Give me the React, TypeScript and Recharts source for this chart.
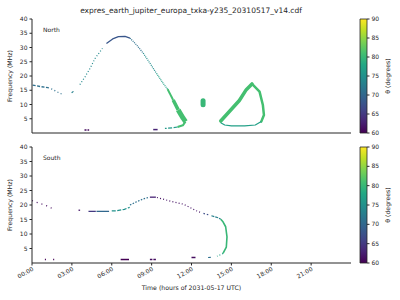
import React from "react";
import { ComposedChart, Line, XAxis, YAxis, BarChart, Bar } from "recharts";

type Pt = { h: number; f: number };

const hourTicks = [0, 3, 6, 9, 12, 15, 18, 21];
const freqTicks = [5, 10, 15, 20, 25, 30, 35, 40];
const thetaTicks = [60, 65, 70, 75, 80, 85, 90];
const thetaSpan = [{ key: "theta", span: [60, 90] }];

// North hemisphere emission (hour of day, MHz)
const nDawnDash: Pt[] = [{ h: 0.05, f: 16.8 }, { h: 0.62, f: 16.3 }, { h: 1.2, f: 15.9 }];
const nDawnDots: Pt[] = [{ h: 1.2, f: 15.9 }, { h: 1.5, f: 15.4 }, { h: 1.87, f: 14.5 }, { h: 2.25, f: 13.6 }];
const nRiseStub: Pt[] = [{ h: 2.98, f: 14.1 }, { h: 3.12, f: 14.6 }];
const nRise: Pt[] = [{ h: 3.6, f: 17.0 }, { h: 4.0, f: 19.8 }, { h: 4.37, f: 22.7 }, { h: 4.75, f: 26.2 }, { h: 5.3, f: 29.7 }];
const nCrest: Pt[] = [{ h: 5.6, f: 31.4 }, { h: 6.07, f: 33.0 }, { h: 6.5, f: 33.8 }, { h: 7.0, f: 33.9 }, { h: 7.37, f: 33.3 }];
const nFallHigh: Pt[] = [{ h: 7.37, f: 33.3 }, { h: 7.87, f: 30.9 }, { h: 8.37, f: 28.0 }];
const nFallMid: Pt[] = [{ h: 8.37, f: 28.0 }, { h: 8.87, f: 24.5 }, { h: 9.37, f: 20.9 }];
const nFallLow: Pt[] = [{ h: 9.37, f: 20.9 }, { h: 9.87, f: 17.4 }, { h: 10.25, f: 15.1 }];
const nBandTop: Pt[] = [{ h: 10.2, f: 15.4 }, { h: 10.62, f: 11.6 }];
const nBandMid: Pt[] = [{ h: 10.62, f: 11.6 }, { h: 11.0, f: 8.1 }];
const nBandLow: Pt[] = [{ h: 11.0, f: 8.1 }, { h: 11.37, f: 5.2 }, { h: 11.55, f: 4.0 }];
const nHook: Pt[] = [{ h: 11.55, f: 4.0 }, { h: 11.35, f: 2.7 }, { h: 10.95, f: 2.1 }];
const nHookTail: Pt[] = [{ h: 10.95, f: 2.1 }, { h: 10.55, f: 1.8 }, { h: 10.0, f: 1.6 }];
const nBlob: Pt[] = [{ h: 12.87, f: 9.9 }, { h: 12.87, f: 11.3 }];
const nLoopLeft: Pt[] = [{ h: 14.2, f: 4.2 }, { h: 14.9, f: 7.8 }, { h: 15.6, f: 11.4 }, { h: 16.12, f: 15.2 }, { h: 16.55, f: 17.2 }];
const nLoopRight: Pt[] = [{ h: 16.55, f: 17.2 }, { h: 17.12, f: 14.5 }, { h: 17.37, f: 9.8 }, { h: 17.45, f: 6.3 }, { h: 17.25, f: 4.0 }];
const nLoopFloor: Pt[] = [{ h: 17.25, f: 4.0 }, { h: 16.8, f: 2.8 }, { h: 16.0, f: 2.5 }, { h: 15.0, f: 2.5 }, { h: 14.5, f: 2.8 }, { h: 14.2, f: 3.6 }];
const nBurstA: Pt[] = [{ h: 3.95, f: 1.05 }, { h: 4.3, f: 1.05 }];
const nBurstB: Pt[] = [{ h: 9.12, f: 1.2 }, { h: 9.45, f: 1.2 }];

// South hemisphere emission
const sDawn: Pt[] = [{ h: 0, f: 21.5 }, { h: 0.2, f: 21.1 }, { h: 0.57, f: 20.6 }, { h: 0.95, f: 20.0 }, { h: 1.12, f: 19.7 }, { h: 1.67, f: 18.5 }];
const sDawnStub: Pt[] = [{ h: 3.5, f: 18.2 }, { h: 3.62, f: 18.2 }];
const sPlateau: Pt[] = [{ h: 4.25, f: 17.8 }, { h: 4.8, f: 17.8 }];
const sPlateauB: Pt[] = [{ h: 4.85, f: 17.8 }, { h: 5.8, f: 17.8 }];
const sClimb: Pt[] = [{ h: 6.0, f: 18.0 }, { h: 6.37, f: 18.0 }, { h: 6.95, f: 18.5 }, { h: 7.35, f: 19.2 }];
const sClimbUpper: Pt[] = [{ h: 7.37, f: 20.0 }, { h: 7.87, f: 21.1 }, { h: 8.37, f: 22.1 }, { h: 8.75, f: 22.6 }];
const sCrest: Pt[] = [{ h: 8.87, f: 22.7 }, { h: 9.32, f: 22.7 }];
const sFall: Pt[] = [{ h: 9.4, f: 22.6 }, { h: 9.87, f: 22.0 }, { h: 10.62, f: 21.1 }, { h: 11.37, f: 20.3 }, { h: 11.87, f: 19.2 }, { h: 12.37, f: 18.0 }, { h: 12.75, f: 17.3 }];
const sFallLow: Pt[] = [{ h: 12.9, f: 17.1 }, { h: 13.37, f: 16.5 }];
const sKnee: Pt[] = [{ h: 13.5, f: 16.3 }, { h: 14.0, f: 15.6 }, { h: 14.2, f: 15.1 }];
const sWall: Pt[] = [{ h: 14.2, f: 15.1 }, { h: 14.37, f: 14.2 }, { h: 14.57, f: 12.5 }, { h: 14.67, f: 9.0 }, { h: 14.62, f: 5.5 }, { h: 14.37, f: 3.3 }];
const sFoot: Pt[] = [{ h: 14.37, f: 3.3 }, { h: 13.92, f: 2.3 }];
const sFootTail: Pt[] = [{ h: 13.25, f: 1.9 }, { h: 13.45, f: 1.95 }];
const sBurstA: Pt[] = [{ h: 0.97, f: 1.2 }, { h: 1.05, f: 1.2 }];
const sBurstB: Pt[] = [{ h: 1.59, f: 1.2 }, { h: 1.67, f: 1.2 }];
const sBurstC: Pt[] = [{ h: 6.67, f: 1.2 }, { h: 7.3, f: 1.2 }];
const sBurstD: Pt[] = [{ h: 8.87, f: 1.2 }, { h: 9.37, f: 1.2 }];
const sBurstE: Pt[] = [{ h: 12.0, f: 1.9 }, { h: 12.3, f: 1.9 }];

// beaming angle (degrees) of each track
type Track = { pts: Pt[]; theta: number; w?: number; dash?: string; round?: boolean };

const northTracks: Track[] = [
  { pts: nDawnDash, theta: 71, w: 1.3, dash: "3 1.5" },
  { pts: nDawnDots, theta: 71, w: 1.2, dash: "1 2.5" },
  { pts: nRiseStub, theta: 73, w: 1.2 },
  { pts: nRise, theta: 74, w: 1.2, dash: "1 2" },
  { pts: nCrest, theta: 68, w: 1.3 },
  { pts: nFallHigh, theta: 71, w: 1.2, dash: "1 1" },
  { pts: nFallMid, theta: 74.5, w: 1.2, dash: "1 1" },
  { pts: nFallLow, theta: 77, w: 1.2, dash: "1 0.8" },
  { pts: nBandTop, theta: 81, w: 2 },
  { pts: nBandMid, theta: 81, w: 3.5 },
  { pts: nBandLow, theta: 81, w: 5 },
  { pts: nHook, theta: 81, w: 2 },
  { pts: nHookTail, theta: 76, w: 1.2, dash: "4 1.5" },
  { pts: nBlob, theta: 80, w: 5, round: true },
  { pts: nLoopLeft, theta: 81, w: 3.5, round: true },
  { pts: nLoopRight, theta: 81, w: 2.5, round: true },
  { pts: nLoopFloor, theta: 77, w: 1.2 },
  { pts: nBurstA, theta: 61, w: 1.5, dash: "2 1" },
  { pts: nBurstB, theta: 63, w: 1.5 },
];

const southTracks: Track[] = [
  { pts: sDawn, theta: 61, w: 1.2, dash: "1 4" },
  { pts: sDawnStub, theta: 62, w: 1.3 },
  { pts: sPlateau, theta: 65, w: 1.3 },
  { pts: sPlateauB, theta: 70, w: 1.3 },
  { pts: sClimb, theta: 75, w: 1.2, dash: "4 1.5" },
  { pts: sClimbUpper, theta: 71, w: 1.2, dash: "1.5 1.5" },
  { pts: sCrest, theta: 63, w: 1.3 },
  { pts: sFall, theta: 61.5, w: 1.2, dash: "1 2.2" },
  { pts: sFallLow, theta: 67, w: 1.2, dash: "1.5 2" },
  { pts: sKnee, theta: 73, w: 1.2, dash: "3 1" },
  { pts: sWall, theta: 80, w: 1.6 },
  { pts: sFoot, theta: 77, w: 1.2, dash: "1 2" },
  { pts: sFootTail, theta: 71, w: 1.2 },
  { pts: sBurstA, theta: 60, w: 1.3 },
  { pts: sBurstB, theta: 60, w: 1.3 },
  { pts: sBurstC, theta: 60, w: 1.5 },
  { pts: sBurstD, theta: 61, w: 1.5, dash: "2.5 1 2.5" },
  { pts: sBurstE, theta: 61, w: 1.5 },
];

const viridisStops = [
  "#440154", "#482475", "#414487", "#355f8d", "#2a788e", "#21918c",
  "#22a884", "#44bf70", "#7ad151", "#bddf26", "#fde725",
];

const FONT = "'DejaVu Sans', sans-serif";
const INK = "#262626";

function hexToRgb(hex: string) {
  const n = parseInt(hex.slice(1), 16);
  return [(n >> 16) & 255, (n >> 8) & 255, n & 255];
}

function viridis(theta: number) {
  const t = Math.min(1, Math.max(0, (theta - 60) / 30)) * 10;
  const i = Math.min(9, Math.floor(t));
  const k = t - i;
  const a = hexToRgb(viridisStops[i]);
  const b = hexToRgb(viridisStops[i + 1]);
  const c = a.map((v, j) => Math.round(v + (b[j] - v) * k));
  return `rgb(${c[0]},${c[1]},${c[2]})`;
}

const fmtHour = (h: number) => `${String(h).padStart(2, "0")}:00`;

const TimeTick = (props: any) => {
  const { x, y, payload } = props;
  return (
    <text
      x={x}
      y={y}
      dy="0.7em"
      textAnchor="end"
      transform={`rotate(-30 ${x} ${y})`}
      fontSize={6}
      fill={INK}
      fontFamily={FONT}
    >
      {fmtHour(payload.value)}
    </text>
  );
};

// rotated label, x is local to the chart svg
const sideLabel = (text: string, x: number) => (props: any) => {
  const vb = props.viewBox || {};
  const cy = (vb.y ?? 0) + (vb.height ?? 0) / 2;
  return (
    <text
      x={x}
      y={cy}
      transform={`rotate(-90 ${x} ${cy})`}
      textAnchor="middle"
      dominantBaseline="middle"
      fontSize={6.2}
      fill={INK}
      fontFamily={FONT}
    >
      {text}
    </text>
  );
};

const bottomLabel = (text: string, y: number) => (props: any) => {
  const vb = props.viewBox || {};
  const cx = (vb.x ?? 0) + (vb.width ?? 0) / 2;
  return (
    <text
      x={cx}
      y={y}
      textAnchor="middle"
      dominantBaseline="middle"
      fontSize={6.2}
      fill={INK}
      fontFamily={FONT}
    >
      {text}
    </text>
  );
};

type PanelProps = {
  tracks: Track[];
  name: string;
  top: number;
  height: number;
  plotTop: number;
  axisH: number;
  showTime: boolean;
  gid: string;
};

function Panel({ tracks, name, top, height, plotTop, axisH, showTime, gid }: PanelProps) {
  const tickStyle = { fontSize: 6, fill: INK, fontFamily: FONT };
  return (
    <>
      <div style={{ position: "absolute", left: 0, top }}>
        <ComposedChart
          width={400}
          height={height}
          margin={{ top: plotTop, right: 49, bottom: 0, left: 0 }}
        >
          <XAxis
            dataKey="h"
            type="number"
            domain={[0, 24]}
            ticks={hourTicks}
            allowDataOverflow
            height={axisH}
            tickSize={2.5}
            tickMargin={1}
            stroke={INK}
            tick={showTime ? <TimeTick /> : false}
            label={
              showTime
                ? bottomLabel("Time (hours of 2031-05-17 UTC)", height - 12)
                : undefined
            }
          />
          <XAxis
            xAxisId="box"
            orientation="top"
            type="number"
            domain={[0, 24]}
            height={0}
            tick={false}
            tickLine={false}
            stroke={INK}
          />
          <YAxis
            type="number"
            domain={[0, 40]}
            ticks={freqTicks}
            allowDataOverflow
            width={32}
            tickSize={2.5}
            tickMargin={2}
            stroke={INK}
            tick={tickStyle}
            label={sideLabel("Frequency (MHz)", 10)}
          />
          <YAxis
            yAxisId="box"
            orientation="right"
            domain={[0, 40]}
            width={0}
            tick={false}
            tickLine={false}
            stroke={INK}
          />
          {tracks.map((t, i) => (
            <Line
              key={i}
              data={t.pts}
              dataKey="f"
              type="linear"
              stroke={viridis(t.theta)}
              strokeWidth={t.w ?? 1.2}
              strokeDasharray={t.dash}
              strokeLinecap={t.round ? "round" : "butt"}
              strokeLinejoin="round"
              dot={false}
              activeDot={false}
              legendType="none"
              isAnimationActive={false}
            />
          ))}
        </ComposedChart>
      </div>
      <div
        style={{
          position: "absolute",
          left: 43,
          top: top + plotTop + 7,
          fontSize: 6,
          fontFamily: FONT,
          color: INK,
          lineHeight: "7px",
        }}
      >
        {name}
      </div>
      <div style={{ position: "absolute", left: 355, top }}>
        <BarChart
          width={45}
          height={height}
          data={thetaSpan}
          barCategoryGap={0}
          margin={{ top: plotTop, right: 0, bottom: axisH, left: 5 }}
        >
          <defs>
            <linearGradient id={gid} x1="0" y1="1" x2="0" y2="0">
              {viridisStops.map((c, i) => (
                <stop key={i} offset={`${i * 10}%`} stopColor={c} />
              ))}
            </linearGradient>
          </defs>
          <XAxis dataKey="key" type="category" hide />
          <YAxis
            orientation="right"
            type="number"
            domain={[60, 90]}
            ticks={thetaTicks}
            width={33}
            tickSize={2.5}
            tickMargin={2}
            stroke={INK}
            axisLine={false}
            tick={tickStyle}
            label={sideLabel("θ (degrees)", 33)}
          />
          <Bar
            dataKey="span"
            fill={`url(#${gid})`}
            stroke={INK}
            strokeWidth={0.8}
            isAnimationActive={false}
          />
        </BarChart>
      </div>
    </>
  );
}

export default function App() {
  return (
    <div
      style={{
        position: "absolute",
        left: 0,
        top: 0,
        width: 400,
        height: 300,
        overflow: "hidden",
        background: "#fff",
        fontFamily: FONT,
      }}
    >
      <div
        style={{
          position: "absolute",
          left: 0,
          top: 6,
          width: 382,
          textAlign: "center",
          fontSize: 7.5,
          lineHeight: "9px",
          color: INK,
        }}
      >
        expres_earth_jupiter_europa_txka-y235_20310517_v14.cdf
      </div>
      <Panel
        tracks={northTracks}
        name="North"
        top={0}
        height={150}
        plotTop={19}
        axisH={17}
        showTime={false}
        gid="vir-north"
      />
      <Panel
        tracks={southTracks}
        name="South"
        top={140}
        height={160}
        plotTop={7}
        axisH={37}
        showTime={true}
        gid="vir-south"
      />
    </div>
  );
}
